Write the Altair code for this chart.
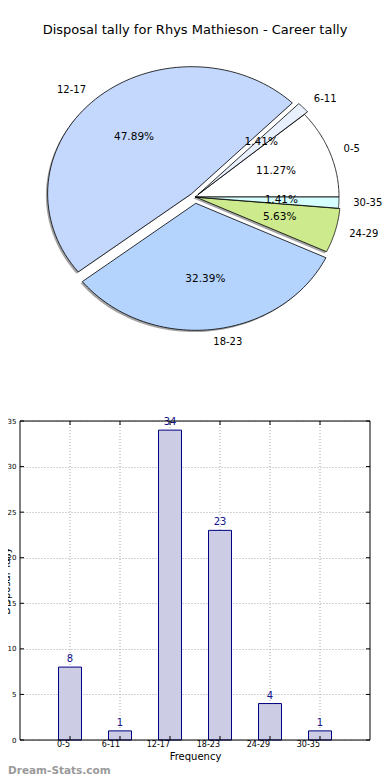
import altair as alt
import pandas as pd

# ---------------- data ----------------
categories = ["0-5", "6-11", "12-17", "18-23", "24-29", "30-35"]
tally = [8, 1, 34, 23, 4, 1]
explode = [0.0, 0.03, 0.035, 0.05, 0.01, 0.0]
pie_colors = ["#ffffff", "#e8effd", "#c4d8fe", "#b4d4fe", "#cdea8c", "#d6ffff"]
y_ticks = [0, 5, 10, 15, 20, 25, 30, 35]

title_text = ["Disposal tally for Rhys Mathieson - Career tally"]
x_title = "Frequency"
y_title = "Disposal Tally"
watermark = ["Dream-Stats.com"]

# ---------------- layout ----------------
FONT = "DejaVu Sans"
W, H = 350, 732
PIE_X = [31, 319]      # ellipse: horizontal radius 144
PIE_Y = [316, 62]      # vertical radius 127
BAR_Y = [732, 413]
N = 72
GRID = "#a8a8a8"

df = pd.DataFrame({"cat": categories, "n": tally, "ex": explode,
                   "idx": list(range(len(categories)))})
bar_df = pd.DataFrame({"cat": categories, "n": tally})
ytick_df = pd.DataFrame({"v": y_ticks})

xs = alt.Scale(domain=[-1, 1], range=PIE_X)
ys = alt.Scale(domain=[-1, 1], range=PIE_Y)
fill_scale = alt.Scale(domain=categories, range=pie_colors)

pie_base = (
    alt.Chart(df)
    .transform_window(cum="sum(n)", sort=[alt.SortField("idx")], frame=[None, 0])
    .transform_joinaggregate(total="sum(n)")
    .transform_calculate(a0="2*PI*(datum.cum - datum.n)/datum.total")
    .transform_calculate(a1="2*PI*datum.cum/datum.total")
    .transform_calculate(mid="(datum.a0 + datum.a1)/2")
    .transform_calculate(ox="datum.ex*cos(datum.mid)")
    .transform_calculate(oy="datum.ex*sin(datum.mid)")
)

poly = (
    pie_base
    .transform_calculate(steps=f"sequence(-1, {N + 2})")
    .transform_flatten(["steps"], as_=["step"])
    .transform_calculate(ang=f"datum.a0 + (datum.a1 - datum.a0)*datum.step/{N}")
    .transform_calculate(rim=f"datum.step >= 0 && datum.step <= {N} ? 1 : 0")
    .transform_calculate(px="datum.ox + datum.rim*cos(datum.ang)")
    .transform_calculate(py="datum.oy + datum.rim*sin(datum.ang)")
    .transform_calculate(sx="datum.px - 0.012")
    .transform_calculate(sy="datum.py - 0.014")
)

shadow = poly.mark_line(filled=True, fill="#4a4a4a", fillOpacity=0.5, strokeWidth=0).encode(
    x=alt.X("sx:Q", scale=xs, axis=None),
    y=alt.Y("sy:Q", scale=ys, axis=None),
    order="step:Q",
    detail="cat:N",
)

slices = poly.mark_line(filled=True, stroke="black", strokeWidth=0.8, strokeJoin="round").encode(
    x=alt.X("px:Q", scale=xs, axis=None),
    y=alt.Y("py:Q", scale=ys, axis=None),
    order="step:Q",
    fill=alt.Fill("cat:N", scale=fill_scale, legend=None),
)

lab = pie_base.transform_calculate(
    lx="datum.ox + 1.1*cos(datum.mid)",
    ly="datum.oy + 1.1*sin(datum.mid)",
)
lab_r = lab.transform_filter("cos(datum.mid) >= 0").mark_text(
    align="left", baseline="middle", font=FONT, fontSize=10, color="black"
).encode(x=alt.X("lx:Q", scale=xs, axis=None), y=alt.Y("ly:Q", scale=ys, axis=None), text="cat:N")
lab_l = lab.transform_filter("cos(datum.mid) < 0").mark_text(
    align="right", baseline="middle", font=FONT, fontSize=10, color="black"
).encode(x=alt.X("lx:Q", scale=xs, axis=None), y=alt.Y("ly:Q", scale=ys, axis=None), text="cat:N")

pct = pie_base.transform_calculate(
    tx="datum.ox + 0.6*cos(datum.mid)",
    ty="datum.oy + 0.6*sin(datum.mid)",
    pct="format(100*datum.n/datum.total, '.2f') + '%'",
).mark_text(align="center", baseline="middle", font=FONT, fontSize=10.5, color="black").encode(
    x=alt.X("tx:Q", scale=xs, axis=None), y=alt.Y("ty:Q", scale=ys, axis=None), text="pct:N"
)

pie_group = alt.layer(shadow, slices, pct, lab_r, lab_l)

# ---------------- bar chart ----------------
x_scale = alt.Scale(domain=categories, paddingInner=0.54, paddingOuter=0.77)
y_scale = alt.Scale(domain=[y_ticks[0], y_ticks[-1]], range=BAR_Y, nice=False)

xb = alt.X(
    "cat:N", sort=categories, scale=x_scale,
    axis=alt.Axis(orient="bottom", title=x_title, labelAngle=0, labelFontSize=8, labelPadding=4,
                  ticks=False, domain=False, grid=False, titleFontSize=10, titlePadding=3,
                  titleFontWeight="normal", labelFont=FONT, titleFont=FONT,
                  labelColor="black", titleColor="black"),
)
yb = alt.Y(
    "n:Q", scale=y_scale,
    axis=alt.Axis(orient="left", values=y_ticks, title=y_title, titleX=-9, titleY=572.5,
                  titleFontSize=10, titleFontWeight="normal", titleFont=FONT, titleColor="black",
                  labelFontSize=7, labelPadding=4, labelFont=FONT, labelColor="black",
                  ticks=False, domain=False, grid=True, gridDash=[1, 2], gridColor=GRID,
                  gridOpacity=1),
)

# vertical dotted grid at category centres
vgrid = alt.Chart(bar_df).mark_rule(color=GRID, strokeDash=[1, 2], strokeWidth=1).encode(
    x=alt.X("cat:N", sort=categories),
    y=alt.datum(y_ticks[-1]), y2=alt.datum(y_ticks[0]),
)

bars = alt.Chart(bar_df).mark_bar(fill="#ccccE4", stroke="#000080", strokeWidth=1).encode(x=xb, y=yb)
nums = alt.Chart(bar_df).mark_text(baseline="bottom", dy=-3, fontSize=10, color="#14148c", font=FONT).encode(
    x=alt.X("cat:N", sort=categories), y=alt.Y("n:Q"), text="n:Q"
)

# inward tick marks (matplotlib style) on all four sides
tick_l = alt.Chart(ytick_df).mark_rule(color="black", strokeWidth=1).encode(
    y=alt.Y("v:Q"), x=alt.value(0), x2=alt.value(4))
tick_r = alt.Chart(ytick_df).mark_rule(color="black", strokeWidth=1).encode(
    y=alt.Y("v:Q"), x=alt.value(W - 4), x2=alt.value(W))
tick_b = alt.Chart(bar_df).mark_rule(color="black", strokeWidth=1).encode(
    x=alt.X("cat:N", sort=categories), y=alt.value(BAR_Y[0]), y2=alt.value(BAR_Y[0] - 4))
tick_t = alt.Chart(bar_df).mark_rule(color="black", strokeWidth=1).encode(
    x=alt.X("cat:N", sort=categories), y=alt.value(BAR_Y[1]), y2=alt.value(BAR_Y[1] + 4))

frame = alt.Chart(pd.DataFrame({"k": [0]})).mark_rect(filled=False, stroke="black", strokeWidth=1).encode(
    x=alt.value(0), x2=alt.value(W), y=alt.datum(y_ticks[-1]), y2=alt.datum(y_ticks[0])
)
bar_group = alt.layer(vgrid, bars, nums, tick_l, tick_r, tick_b, tick_t, frame)

# ---------------- texts ----------------
title = alt.Chart(pd.DataFrame({"t": title_text})).mark_text(
    align="center", baseline="middle", font=FONT, fontSize=13, color="black"
).encode(x=alt.value(175), y=alt.value(22), text="t:N")

wm = alt.Chart(pd.DataFrame({"t": watermark})).mark_text(
    align="left", baseline="middle", font=FONT, fontSize=10.5, fontWeight="bold", color="#9a9a9a"
).encode(x=alt.value(-12), y=alt.value(763), text="t:N")

chart = (
    alt.layer(pie_group, bar_group, title, wm)
    .resolve_scale(x="independent", y="independent")
    .properties(width=W, height=H, autosize=alt.AutoSizeParams(type="none"),
                padding={"left": 12, "right": 12, "top": 0, "bottom": 40})
    .configure_view(stroke=None)
)

chart.save("out.html", embed_options={"renderer": "svg", "actions": False})
